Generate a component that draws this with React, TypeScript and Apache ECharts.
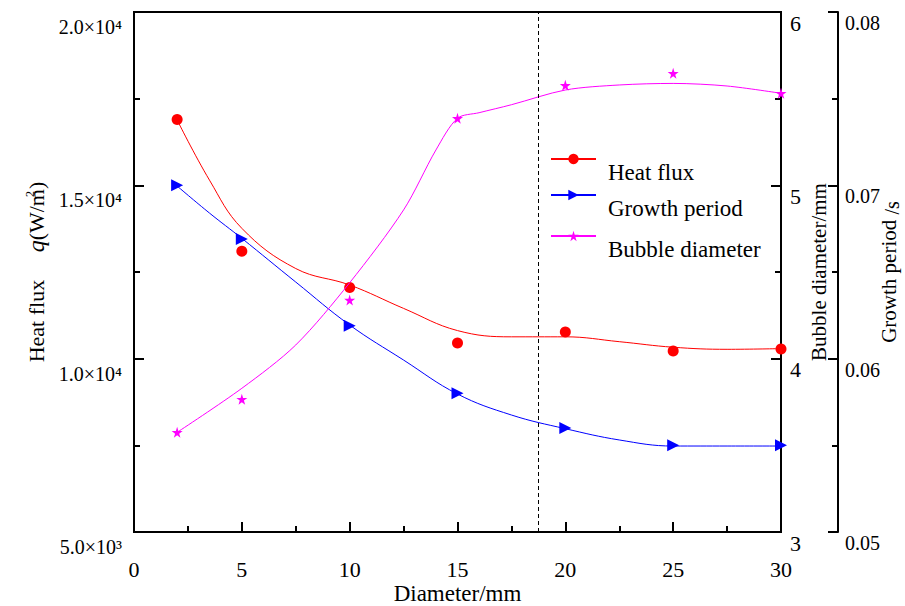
import React, { useEffect, useRef } from "react";
import * as echarts from "echarts";

// measured points
const diameters = [2, 5, 10, 15, 20, 25, 30];
const heatFlux = [16900, 13100, 12050, 10450, 10770, 10220, 10280];
const growthPeriod = [0.07, 0.0669, 0.0619, 0.058, 0.056, 0.055, 0.055];
const bubbleDiameter = [3.575, 3.766, 4.338, 5.387, 5.577, 5.646, 5.531];

// fitted curves
const curveX = [2, 3.5, 5, 7.5, 10, 12.5, 15, 17.5, 20, 22.5, 25, 27.5, 30];
const heatFluxCurve = [16885, 15150, 13760, 12600, 12125, 11450, 10810, 10630, 10630, 10490, 10330, 10270, 10290];
const growthCurve = [0.06996, 0.0684, 0.06694, 0.06442, 0.06194, 0.05992, 0.05796, 0.05675, 0.05596, 0.05531, 0.05496, 0.05496, 0.05496];
const bubbleCurveX = [2, 5, 7.5, 10, 12.5, 14, 15, 16, 17.5, 20, 22.5, 25, 27.5, 30];
const bubbleCurve = [3.575, 3.829, 4.079, 4.438, 4.858, 5.204, 5.387, 5.419, 5.465, 5.55, 5.579, 5.588, 5.573, 5.531];

const leftTicks: Record<number, string> = {
  5000: "5.0×10³",
  10000: "1.0×10⁴",
  15000: "1.5×10⁴",
  20000: "2.0×10⁴",
};

const dashedAt = 18.75;

const FONT = "'Liberation Serif', 'Times New Roman', serif";
const STAR = "path://M50,0 L61,35 L98,35 L68,57 L79,91 L50,70 L21,91 L32,57 L2,35 L39,35 Z";

export default function App() {
  const ref = useRef<HTMLDivElement>(null);
  useEffect(() => {
    if (!ref.current) return;
    const chart = echarts.init(ref.current, undefined, { renderer: "svg" });
    const pair = (xs: number[], ys: number[]) => xs.map((x, i) => [x, ys[i]]);
    const axisLine = { show: true, lineStyle: { color: "#000", width: 2 } };
    const yTick = { show: true, inside: true, length: 10, lineStyle: { color: "#000", width: 2 } };
    const yMinor = { show: true, splitNumber: 2, length: 6, lineStyle: { color: "#000", width: 2 } };
    const legendBase = {
      orient: "vertical" as const,
      left: 550,
      padding: 0,
      itemWidth: 45,
      itemHeight: 13,
      formatter: (n: string) => "\n" + n,
      textStyle: { fontFamily: FONT, fontSize: 23, color: "#000", lineHeight: 26, padding: [0, 0, 0, 7] },
    };
    chart.setOption({
      animation: false,
      backgroundColor: "#fff",
      textStyle: { fontFamily: FONT, color: "#000" },
      grid: {
        left: 134,
        right: 124,
        top: 12,
        bottom: 74,
        containLabel: false,
        outerBoundsMode: "none",
        show: true,
        borderColor: "#000",
        borderWidth: 2,
        backgroundColor: "transparent",
      },
      legend: [
        { ...legendBase, top: 133, data: ["Heat flux"] },
        { ...legendBase, top: 169, data: ["Growth period"] },
        { ...legendBase, top: 210, data: ["Bubble diameter"] },
      ],
      xAxis: {
        type: "value",
        min: 0,
        max: 30,
        interval: 5,
        name: "Diameter/mm",
        nameLocation: "middle",
        nameGap: 50,
        nameMoveOverlap: false,
        nameTextStyle: { fontFamily: FONT, fontSize: 23, lineHeight: 23, color: "#000" },
        axisLine,
        axisTick: { show: true, inside: true, length: 10, lineStyle: { color: "#000", width: 2 } },
        minorTick: { show: true, splitNumber: 2, length: 6, lineStyle: { color: "#000", width: 2 } },
        splitLine: { show: false },
        axisLabel: { fontFamily: FONT, fontSize: 22, lineHeight: 22, color: "#000", margin: 26 },
      },
      yAxis: [
        {
          type: "value",
          position: "left",
          min: 5000,
          max: 20000,
          interval: 5000,
          name: "Heat flux     {q|q}(W/m)",
          nameLocation: "middle",
          nameGap: 86,
          nameMoveOverlap: false,
          nameRotate: 90,
          nameTextStyle: {
            fontFamily: FONT,
            fontSize: 22,
            color: "#000",
            rich: { q: { fontFamily: FONT, fontSize: 24, fontStyle: "italic", color: "#000" } },
          },
          axisLine,
          axisTick: yTick,
          minorTick: yMinor,
          splitLine: { show: false },
          axisLabel: {
            fontFamily: FONT,
            fontSize: 20,
            lineHeight: 30,
            color: "#000",
            margin: 12,
            formatter: (v: number) => "\n" + (leftTicks[v] ?? String(v)),
          },
        },
        {
          type: "value",
          position: "right",
          min: 3,
          max: 6,
          interval: 1,
          name: "Bubble diameter/mm",
          nameLocation: "middle",
          nameGap: 27,
          nameMoveOverlap: false,
          nameRotate: 90,
          nameTextStyle: { fontFamily: FONT, fontSize: 21, color: "#000" },
          axisLine,
          axisTick: yTick,
          minorTick: yMinor,
          splitLine: { show: false },
          axisLabel: {
            fontFamily: FONT,
            fontSize: 22,
            lineHeight: 22,
            color: "#000",
            margin: 9,
            formatter: (v: number) => "\n" + v,
          },
        },
        {
          type: "value",
          position: "right",
          offset: 57,
          min: 0.05,
          max: 0.08,
          interval: 0.01,
          name: "Growth period {s|/s}",
          nameLocation: "middle",
          nameGap: 38,
          nameMoveOverlap: false,
          nameRotate: 90,
          nameTextStyle: {
            fontFamily: FONT,
            fontSize: 21,
            color: "#000",
            rich: { s: { fontFamily: FONT, fontSize: 20, color: "#000", padding: [6, 0, 0, 0] } },
          },
          axisLine,
          axisTick: yTick,
          minorTick: yMinor,
          splitLine: { show: false },
          axisLabel: {
            fontFamily: FONT,
            fontSize: 20,
            lineHeight: 22,
            color: "#000",
            margin: 7,
            formatter: (v: number) => "\n" + v.toFixed(2),
          },
        },
      ],
      graphic: [
        {
          type: "text",
          x: 24,
          y: 197,
          rotation: Math.PI / 2,
          style: { text: "2", fontFamily: FONT, fontSize: 12, fill: "#000" },
        },
      ],
      series: [
        {
          name: "Heat flux",
          type: "line",
          smooth: 0.4,
          yAxisIndex: 0,
          data: pair(curveX, heatFluxCurve),
          showSymbol: false,
          symbol: "circle",
          lineStyle: { color: "#ff0000", width: 1 },
          itemStyle: { color: "#ff0000" },
          markLine: {
            silent: true,
            symbol: "none",
            label: { show: false },
            lineStyle: { color: "#000", type: [4, 3], width: 1 },
            data: [{ xAxis: dashedAt }],
          },
        },
        {
          name: "Growth period",
          type: "line",
          smooth: 0.4,
          yAxisIndex: 2,
          data: pair(curveX, growthCurve),
          showSymbol: false,
          symbol: "triangle",
          symbolRotate: -90,
          lineStyle: { color: "#0000ff", width: 1 },
          itemStyle: { color: "#0000ff" },
        },
        {
          name: "Bubble diameter",
          type: "line",
          smooth: 0.3,
          yAxisIndex: 1,
          data: pair(bubbleCurveX, bubbleCurve),
          showSymbol: false,
          symbol: STAR,
          lineStyle: { color: "#ff00ff", width: 1 },
          itemStyle: { color: "#ff00ff" },
        },
        {
          name: "Heat flux points",
          type: "scatter",
          yAxisIndex: 0,
          data: pair(diameters, heatFlux),
          symbol: "circle",
          symbolSize: 11,
          itemStyle: { color: "#ff0000", opacity: 1 },
        },
        {
          name: "Growth period points",
          type: "scatter",
          yAxisIndex: 2,
          data: pair(diameters, growthPeriod),
          symbol: "triangle",
          symbolRotate: -90,
          symbolSize: 12,
          itemStyle: { color: "#0000ff", opacity: 1 },
        },
        {
          name: "Bubble diameter points",
          type: "scatter",
          yAxisIndex: 1,
          data: pair(diameters, bubbleDiameter),
          symbol: STAR,
          symbolSize: 11,
          itemStyle: { color: "#ff00ff", opacity: 1 },
        },
      ],
    });
    return () => chart.dispose();
  }, []);
  return <div ref={ref} style={{ width: 905, height: 606, position: "absolute", left: 0, top: 0 }} />;
}
